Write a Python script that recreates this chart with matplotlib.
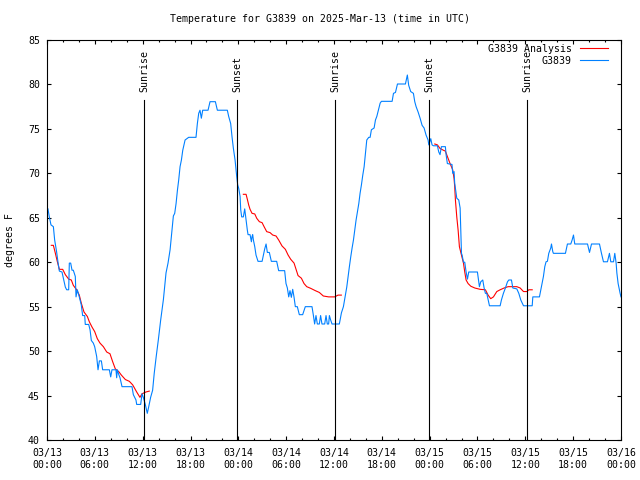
import matplotlib
matplotlib.use("Agg")
from matplotlib import pyplot as plt
from matplotlib.ticker import MultipleLocator

# hours since 2025-03-13 00:00 UTC, temperature in degrees F
obs_hours = [
    0.12, 0.29, 0.5, 0.8, 0.96, 1.2, 1.38, 1.55, 1.88, 2.05, 2.3, 2.47, 2.72, 2.8, 2.97,
    3.14, 3.3, 3.55, 3.64, 3.8, 4.05, 4.3, 4.47, 4.73, 4.8, 5.23, 5.4, 5.56, 5.81, 5.98,
    6.23, 6.4, 6.57, 6.82, 6.98, 7.82, 7.99, 8.15, 8.4, 8.65, 8.74, 8.82, 8.99, 9.16, 9.41,
    10.66, 10.83, 11.16, 11.25, 11.75, 11.92, 12.08, 12.33, 12.58, 12.75, 13.0, 13.25, 13.45,
    13.7, 13.97, 14.26, 14.6, 14.77, 14.93, 15.18, 15.44, 15.64, 15.85, 16.02, 16.19, 16.36,
    16.52, 16.69, 16.86, 17.03, 17.32, 17.77, 18.69, 18.86, 19.03, 19.19, 19.36, 19.53, 20.2,
    20.45, 21.12, 21.37, 22.62, 22.79, 23.04, 23.21, 23.38, 23.59, 23.8, 23.92,
    24.05, 24.22, 24.3, 24.42, 24.63, 24.8, 24.97, 25.13, 25.22, 25.47, 25.64, 25.72, 25.8,
    25.89, 26.06, 26.22, 26.47, 26.98, 27.14, 27.31, 27.48, 27.64, 27.89, 28.14, 28.81, 29.06,
    29.81, 29.98, 30.15, 30.32, 30.48, 30.65, 30.82, 30.99, 31.15, 31.4, 31.65, 32.07, 32.4,
    33.24, 33.4, 33.57, 33.74, 33.91, 34.16, 34.32, 34.49, 34.83, 35.0, 35.16, 35.33, 35.42,
    35.58, 35.75, 36.67, 36.93, 37.18, 37.43, 37.6, 37.77, 37.93, 38.1, 38.27, 38.44, 38.6,
    38.77, 38.94, 39.11, 39.27, 39.44, 39.61, 39.78, 39.95, 40.11, 40.36, 40.53, 40.69, 41.03,
    41.2, 41.37, 41.62, 41.79, 41.95, 43.29, 43.46, 43.71, 43.96, 44.96, 45.2, 45.37, 45.62,
    45.96, 46.13, 46.3, 46.55, 46.8, 47.05, 47.3, 47.55, 47.8, 47.89, 48.14, 48.3, 48.47,
    48.97, 49.14, 49.3, 49.47, 49.97, 50.06, 50.22, 50.8, 50.89, 51.06, 51.14, 51.31, 51.4,
    51.65, 51.82, 51.99, 52.07, 52.24, 52.4, 52.57, 52.74, 52.9, 53.99, 54.16, 54.24, 54.41,
    54.66, 54.83, 54.99, 55.16, 55.5, 56.84, 57.0, 57.25, 57.5, 57.76, 57.93, 58.26, 58.43,
    58.93, 59.18, 59.43, 59.77, 60.86, 60.94, 61.77, 61.94, 62.1, 62.27, 62.44, 62.6, 62.77,
    62.94, 63.19, 63.28, 63.44, 63.52, 65.03, 65.28, 65.7, 65.87, 66.04, 66.2, 67.8, 68.05,
    68.3, 69.3, 69.55, 69.8, 70.3, 70.55, 70.72, 71.06, 71.22, 71.39, 71.48, 71.64, 71.89, 72.0,
]
obs_temps = [
    66.0, 65.1, 64.2, 64.0, 62.5, 61.2, 60.0, 59.0, 58.9, 58.2, 57.2, 56.9, 56.9, 59.9, 59.9,
    59.1, 59.1, 58.4, 56.1, 56.9, 56.1, 55.2, 54.0, 54.0, 53.0, 53.0, 52.4, 51.2, 50.9, 50.5,
    49.4, 47.9, 48.9, 48.9, 47.9, 47.9, 47.1, 47.9, 47.9, 47.9, 47.0, 47.9, 47.4, 47.0, 46.0,
    46.0, 45.1, 44.5, 44.0, 44.0, 45.2, 44.8, 44.0, 43.0, 43.7, 44.8, 45.6, 47.5,
    49.4, 51.3, 53.5, 55.8, 57.3, 58.8, 59.9, 61.4, 63.3, 65.2, 65.5, 66.6, 68.1,
    69.25, 70.75, 71.5, 72.6, 73.75, 74.05, 74.05, 75.6, 76.75, 77.1, 76.2, 77.1, 77.1,
    78.06, 78.06, 77.1, 77.1, 76.4, 75.6, 74.1, 72.8, 71.5, 69.6, 68.7,
    68.3, 67.4, 65.9, 65.1, 65.1, 66.0, 64.75, 63.6, 63.1, 63.1, 62.3, 62.9, 63.1,
    62.5, 61.75, 60.8, 60.1, 60.1, 60.8, 61.5, 62.05, 61.1, 61.1, 60.1, 60.1, 59.05,
    59.05, 57.6, 57.1, 56.1, 56.8, 56.05, 56.95, 56.05, 55.0, 55.0, 54.1, 54.1, 55.0,
    55.0, 54.1, 53.05, 54.0, 53.05, 53.05, 54.0, 53.05, 53.05, 54.0, 53.05, 53.05, 54.0,
    53.5, 53.05, 53.05, 54.3, 55.0, 56.3, 57.2, 58.4, 59.5, 60.6, 61.6, 62.5, 63.6,
    64.75, 65.7, 66.6, 67.75, 68.7, 69.8, 70.75, 72.25, 73.75, 74.05, 74.05, 74.9, 75.1,
    76.0, 76.4, 77.3, 77.9, 78.1, 78.1, 79.0, 79.1, 80.05, 80.05, 81.06, 79.9, 79.2,
    79.0, 78.06, 77.5, 76.9, 76.2, 75.4, 75.1, 74.3, 73.75, 73.2, 73.9, 73.2, 73.1,
    73.1, 72.4, 72.1, 73.0, 73.0, 72.1, 71.1, 71.0, 70.0, 70.2, 68.9, 67.75, 67.2,
    67.0, 66.1, 61.0, 60.8, 60.0, 60.0, 58.9, 58.1, 58.9, 58.9, 57.8, 57.25, 57.8,
    58.0, 57.1, 56.5, 56.5, 55.1, 55.1, 55.75, 56.5, 57.1, 57.8, 58.0, 58.0, 57.1,
    57.0, 56.5, 55.75, 55.1, 55.1, 56.1, 56.1, 56.9, 57.6, 58.4, 59.5, 60.05, 60.1,
    61.0, 61.6, 62.05, 61.2, 61.0, 61.0, 62.05, 62.05, 62.5, 63.06, 62.05, 62.05, 61.1,
    62.05, 62.05, 61.0, 60.05, 60.05, 61.0, 60.05, 60.05, 61.0, 59.9, 58.8, 57.6, 56.5, 56.1,
]

# analysis curve, one piece per night
ana1_hours = [0.54, 0.8, 1.05, 1.3, 1.55, 1.97, 2.3, 2.72, 3.05, 3.3, 3.72, 4.05, 4.3, 4.64,
              5.06, 5.31, 5.65, 5.98, 6.31, 6.65, 7.07, 7.49, 7.9, 8.24, 8.57, 8.99, 9.33,
              9.83, 10.33, 10.75, 11.25, 11.66, 11.92, 12.41, 12.83]
ana1_temps = [61.9, 61.9, 61.0, 60.05, 59.2, 59.2, 58.6, 58.1, 58.0, 57.4, 56.9, 56.3, 55.4,
              54.4, 53.9, 53.3, 52.7, 52.2, 51.4, 50.9, 50.5, 49.9, 49.7, 48.8, 48.0, 47.7,
              47.3, 46.8, 46.6, 46.2, 45.4, 44.8, 45.2, 45.4, 45.5]
ana2_hours = [24.63, 24.97, 25.13, 25.3, 25.47, 25.72, 26.06, 26.31, 26.64, 26.98, 27.23,
              27.56, 27.98, 28.31, 28.73, 29.06, 29.48, 29.9, 30.24, 30.57, 30.99, 31.24,
              31.49, 31.91, 32.24, 32.58, 33.08, 33.66, 34.16, 34.66, 35.33, 36.09, 36.5, 36.92]
ana2_temps = [67.64, 67.64, 67.08, 66.44, 65.95, 65.5, 65.43, 64.94, 64.56, 64.45, 64.0,
              63.44, 63.33, 63.06, 62.95, 62.5, 61.83, 61.45, 60.81, 60.33, 59.9, 59.2,
              58.5, 58.2, 57.6, 57.25, 57.06, 56.8, 56.6, 56.2, 56.1, 56.1, 56.3, 56.3]
ana3_hours = [48.64, 48.97, 49.3, 49.72, 49.97, 50.22, 50.56, 50.89, 51.06, 51.14, 51.23,
              51.4, 51.57, 51.73, 51.99, 52.24, 52.4, 52.57, 52.82, 53.16, 53.66, 54.33,
              54.99, 55.33, 55.66, 56.0, 56.42, 56.84, 57.34, 57.84, 58.93, 59.35, 59.77,
              60.19, 60.44, 60.86]
ana3_temps = [73.3, 73.2, 72.8, 72.6, 72.5, 71.9, 71.1, 70.4, 69.4, 68.5, 67.0, 65.1, 63.6,
              61.75, 60.8, 59.9, 58.9, 58.0, 57.6, 57.3, 57.1, 56.95, 56.9, 56.3, 55.9, 56.1,
              56.7, 56.9, 57.1, 57.25, 57.25, 57.1, 56.7, 56.7, 56.9, 56.9]

sun_hours = [12.21, 23.87, 36.17, 47.95, 60.25]
sun_labels = ["Sunrise", "Sunset", "Sunrise", "Sunset", "Sunrise"]

tick_hours = list(range(0, 73, 6))
tick_labels = ["03/13\n00:00", "03/13\n06:00", "03/13\n12:00", "03/13\n18:00",
               "03/14\n00:00", "03/14\n06:00", "03/14\n12:00", "03/14\n18:00",
               "03/15\n00:00", "03/15\n06:00", "03/15\n12:00", "03/15\n18:00",
               "03/16\n00:00"]

plt.rcParams["font.family"] = ["DejaVu Sans Mono"]
plt.rcParams["font.size"] = 7.1

fig = plt.figure(figsize=(6.4, 4.8), dpi=100)
ax = fig.add_axes([47 / 640, 40 / 480, 574 / 640, 400 / 480])

red = "#ff0000"
blue = "#0080ff"
lw = 0.8

ax.plot(ana1_hours, ana1_temps, color=red, lw=lw, label="G3839 Analysis")
ax.plot(ana2_hours, ana2_temps, color=red, lw=lw)
ax.plot(ana3_hours, ana3_temps, color=red, lw=lw)
ax.plot(obs_hours, obs_temps, color=blue, lw=lw, label="G3839")

for h, name in zip(sun_hours, sun_labels):
    ax.plot([h, h], [40, 78.25], color="black", lw=lw)
    ax.text(h, 79.2, name, rotation=90, ha="center", va="bottom")

ax.set_xlim(0, 72)
ax.set_ylim(40, 85)
ax.set_xticks(tick_hours)
ax.set_xticklabels(tick_labels)
ax.xaxis.set_minor_locator(MultipleLocator(2))
ax.set_yticks(range(40, 86, 5))
ax.tick_params(which="both", direction="in", top=True, right=True, width=0.8)
ax.tick_params(which="major", length=3)
ax.tick_params(which="minor", length=1.7)
ax.tick_params(axis="x", pad=6)
ax.tick_params(axis="y", pad=5)
for s in ax.spines.values():
    s.set_linewidth(0.8)

ax.legend(loc="upper right", bbox_to_anchor=(0.985, 1.0), frameon=False,
          markerfirst=False, handlelength=2.9, handletextpad=0.8,
          labelspacing=0.2, borderaxespad=0)

fig.text(0.5, 1 - 19 / 480, "Temperature for G3839 on 2025-Mar-13 (time in UTC)",
         ha="center", va="center")
fig.text(10 / 640, 0.5, "degrees F", rotation=90, ha="center", va="center")

plt.savefig("out.png")
